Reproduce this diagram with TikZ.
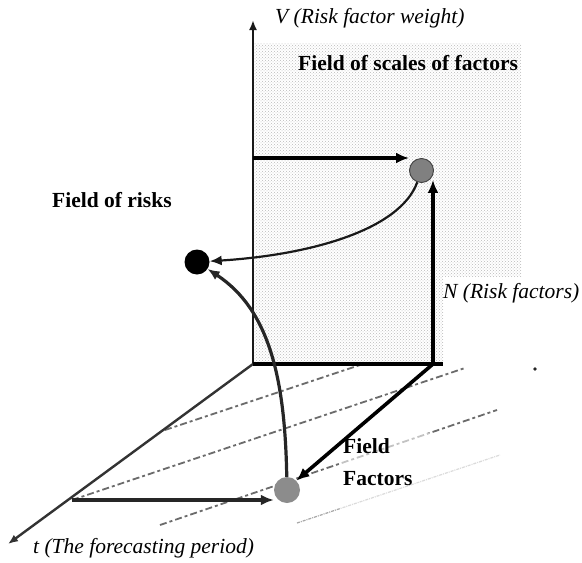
\documentclass[tikz,border=0pt]{standalone}
\usepackage{fontspec}
\setmainfont{Liberation Serif}
\usetikzlibrary{arrows.meta,patterns}
\begin{document}
\begin{tikzpicture}[x=1pt,y=-1pt,
  lbl/.style={inner sep=0pt, font=\fontsize{21.5}{31}\selectfont},
  axisline/.style={line width=2.1pt, black!90},
  axistip/.style={-{Latex[length=10pt,width=8pt]}},
  bigarrow/.style={line width=3.6pt, black, -{Latex[length=13pt,width=11pt]}},
  curvearrow/.style={line width=2.2pt, black!90, -{Latex[length=12pt,width=10pt]}},
  darkgrid/.style={black!58, line width=1.8pt, dash pattern=on 7pt off 3pt on 3pt off 3pt},
  lightgrid/.style={black!35, line width=1.2pt, dash pattern=on 3pt off 1pt on 1pt off 1pt},
  ball/.style={circle, inner sep=0pt, minimum size=#1}
]
\useasboundingbox (0,0) rectangle (582,563);

% shaded field of scales
\fill[pattern=crosshatch dots, pattern color=gray!55]
  (253,43) -- (521,43) -- (521,277) -- (443,277) -- (443,364) -- (253,364) -- cycle;

% named points
\coordinate (O) at (253,364);
\coordinate (Vtop) at (253,20);
\coordinate (Ttip) at (8,544);
\coordinate (Nend) at (443,364);
\coordinate (Nbase) at (433,364);
\coordinate (Vh) at (253,158);
\coordinate (Th) at (72,500);
\coordinate (g1a) at (165,430);
\coordinate (g1b) at (360,365);
\coordinate (g2a) at (72,500);
\coordinate (g2b) at (465,368);
\coordinate (g3a) at (160,525);
\coordinate (g3b) at (497,410);
\coordinate (g4a) at (297,523);
\coordinate (g4b) at (500,455);

% grid lines of the field of factors
\draw[darkgrid] (g1a) -- (g1b);
\draw[darkgrid] (g2a) -- (g2b);
\draw[darkgrid] (g3a) -- (g3b);
\draw[lightgrid] (g4a) -- (g4b);
\fill[white, fill opacity=0.6] (340,433) rectangle (530,553);
\fill[black!85] (535,369) circle (1.8);

% balls
\node[ball=24pt, fill=black!50, draw=black!75, line width=0.9pt] (c1) at (421.5,170.5) {};
\node[ball=25pt, fill=black] (cb) at (197,262) {};
\node[ball=26pt, fill=black!45] (c2) at (287,490) {};

% axes
\draw[axisline, axistip] (O) -- (Vtop);
\draw[axisline, axistip, line width=2.4pt, black!80] (O) -- (Ttip);
\draw[line width=3.4pt] (O) -- (Nend);

% arrows
\draw[bigarrow] (Vh) -- (Vh -| c1.west);
\draw[bigarrow] (Nbase) -- ([yshift=3pt]Nbase |- c1.south);
\draw[bigarrow] (Nbase) -- (c2.north east);
\draw[bigarrow, black!85] (Th) -- (Th -| c2.west);
\draw[curvearrow] (c1) .. controls (400,230) and (310,255) .. (cb);
\draw[curvearrow, line width=3.2pt, black!85] (c2) .. controls (285,380) and (270,310) .. (cb);

% labels
\node[lbl, anchor=base west, font=\fontsize{21.5}{31}\selectfont\itshape] (vlab) at (275,23) {V (Risk factor weight)};
\node[lbl, anchor=base west, font=\fontsize{21.5}{31}\selectfont\bfseries] (fsf) at (298,70) {Field of scales of factors};
\node[lbl, anchor=base west, font=\fontsize{21.5}{31}\selectfont\bfseries] (fr) at (52,207) {Field of risks};
\node[lbl, anchor=base west, font=\fontsize{21.5}{31}\selectfont\itshape] (nlab) at (443,298) {N (Risk factors)};
\node[lbl, anchor=base west, font=\fontsize{21.5}{31}\selectfont\bfseries] (ff1) at (343,453) {Field};
\node[lbl, anchor=base west, font=\fontsize{21.5}{31}\selectfont\bfseries] (ff2) at (343,485) {Factors};
\node[lbl, anchor=base west, font=\fontsize{21.5}{31}\selectfont\itshape] (tlab) at (33,553) {t (The forecasting period)};
\end{tikzpicture}
\end{document}
